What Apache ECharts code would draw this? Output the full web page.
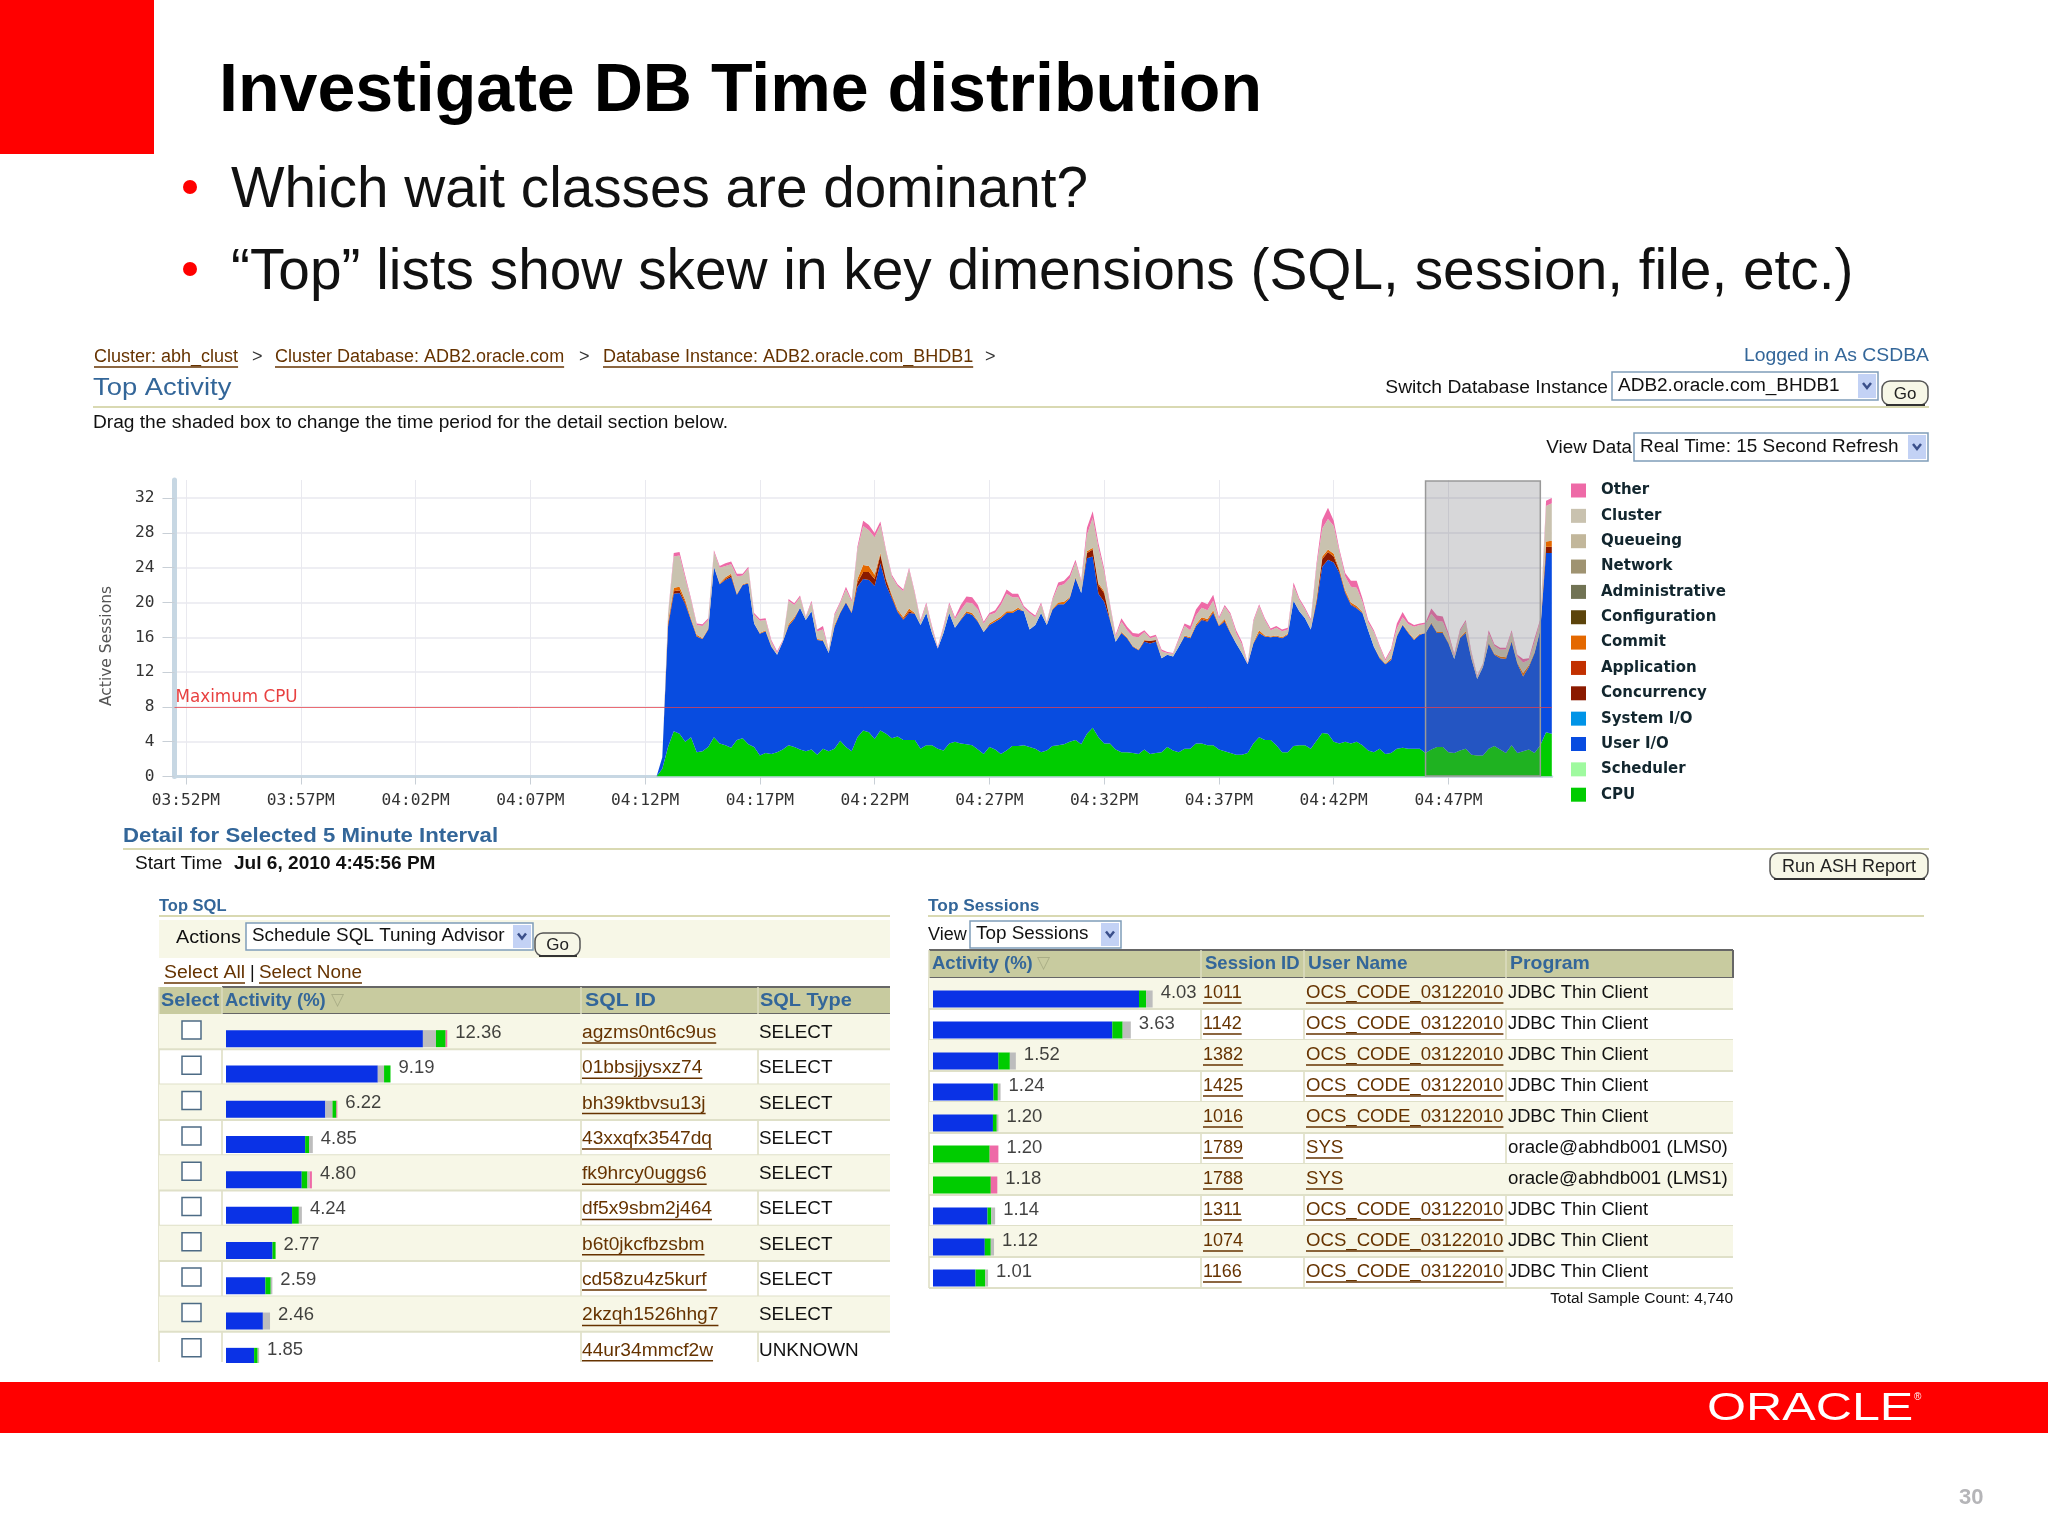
<!DOCTYPE html>
<html>
<head>
<meta charset="utf-8">
<title>Investigate DB Time distribution</title>
<script src="https://cdn.jsdelivr.net/npm/echarts@6/dist/echarts.min.js"></script>
<style>
html,body{margin:0;padding:0;background:#fff}
#main{width:2048px;height:1536px}
</style>
</head>
<body>
<div id="main"></div>
<script>
// active sessions, one sample every 15 seconds starting 04:12:30PM
const cpu = [
0,0.9,3.4,5.2,4.9,4.0,4.5,2.8,2.9,3.4,
4.5,3.8,3.6,3.3,4.2,4.4,3.7,3.4,2.4,2.7,
2.6,2.8,3.1,3.6,3.4,3.1,2.9,3.1,2.5,3.2,
2.9,3.2,4.1,3.4,2.9,4.5,5.3,5.1,4.3,5.3,
4.9,4.4,4.6,4.2,4.2,4.2,3.2,3.6,3.6,3.2,
3.0,3.8,4.0,3.8,3.7,3.6,3.1,2.6,3.4,3.1,
2.6,3.0,3.5,3.5,3.6,3.4,3.2,2.8,3.0,3.5,
3.6,3.7,4.0,4.2,3.7,4.9,5.6,4.5,3.8,3.8,
3.1,2.8,2.8,2.7,2.6,3.1,2.6,2.7,2.8,3.4,
3.0,2.8,3.2,3.2,3.8,3.8,3.6,3.6,3.1,2.9,
2.7,2.5,2.5,2.7,3.8,4.5,4.2,4.2,3.6,2.8,
2.8,3.5,3.6,3.6,3.2,4.1,5.0,4.9,4.0,3.8,
4.0,3.8,4.0,3.6,3.0,2.8,3.2,2.6,2.7,3.2,
3.3,3.2,3.2,3.2,2.7,3.1,3.4,3.4,2.8,2.7,
3.0,3.2,2.5,2.4,2.4,3.2,3.5,3.1,2.7,3.6,
2.7,2.9,3.1,2.7,3.6,5.1,4.9];
const userIO = [
0,1.3,13.8,15.8,16.2,15.8,13.5,13.3,12.9,13.5,
19.6,18.3,19.0,19.6,16.7,17.6,18.5,14.2,14.0,14.0,
12.3,11.2,12.4,13.7,14.7,16.3,15.1,15.9,13.2,12.4,
11.3,14.0,14.7,16.6,15.9,17.3,17.4,17.5,17.6,19.2,
17.1,16.1,14.3,13.8,14.6,14.5,14.2,15.2,12.9,11.5,
13.5,15.0,13.1,14.2,15.1,15.0,14.7,14.0,14.0,14.7,
15.6,15.8,15.3,15.7,15.4,13.5,14.2,16.0,14.4,15.7,
16.2,16.1,16.5,18.6,17.4,20.2,19.7,16.5,16.3,14.2,
12.4,13.7,13.1,12.2,11.9,12.4,12.7,12.8,10.8,10.6,
10.8,12.1,12.9,12.7,13.5,14.2,14.2,15.2,14.2,14.9,
13.8,12.8,11.7,10.2,11.5,12.0,11.9,11.8,12.5,13.1,
13.5,16.7,15.4,14.6,13.7,15.8,19.1,20.0,20.6,19.6,
17.1,15.9,15.3,15.2,13.8,12.1,10.4,10.3,10.7,12.9,
14.1,13.3,12.5,13.1,13.8,14.5,13.1,13.1,12.5,10.8,
12.9,13.3,11.0,8.8,10.2,12.1,10.5,10.5,10.8,11.9,
10.3,8.6,9.5,11.5,13.3,20.6,20.8];
const concurrency = [
0,0,.3,.3,.3,.2,0,0,0,0,
0,0,.1,.2,0,0,0,0,0,0,
0,0,0,0,0,0,0,0,0,0,
0,0,0,0,0,.5,.8,.9,.8,1.0,
.6,.2,.1,.1,.2,0,0,0,0,0,
0,0,0,0,0,0,0,0,0,0,
0,0,0,0,0,0,0,0,0,0,
0,0,0,0,0,.6,.8,1.0,1.0,.1,
0,0,0,0,0,.1,.3,.2,0,0,
0,0,0,0,0,.1,.1,.1,0,.1,
0,0,0,0,0,0,0,0,0,0,
0,0,0,0,0,.3,.9,.9,.7,.2,
.1,.1,.1,0,0,0,0,0,0,0,
0,0,0,0,0,0,0,0,0,0,
0,0,0,0,0,0,0,0,0,0,
0,0,0,0,0,.7,.7];
const commit = [
0,0,.3,.4,.4,.3,.2,.2,.1,.1,
0,.1,.2,.2,.1,.1,.1,0,.1,.1,
.1,0,0,.2,.2,0,0,0,.1,.1,
0,.2,.1,.1,.1,.4,.8,.7,.5,.2,
.2,.2,.2,.2,.3,.1,0,0,0,0,
0,0,0,.1,.2,.2,.1,0,.2,.2,
.2,.2,.2,.2,0,0,0,0,0,.1,
.2,.3,.1,.1,0,.2,.2,.2,.2,.1,
0,.1,.1,.1,.1,.1,0,0,0,0,
0,0,.1,.1,.2,.2,.2,.2,.1,.2,
.1,0,0,0,.1,.3,.1,.1,.1,.1,
.1,0,0,0,0,.2,.3,.3,.3,.2,
.2,.2,.2,.1,0,0,.1,.1,.2,.1,
.1,.1,.1,.1,0,.1,.1,.1,.1,0,
.1,.2,.1,0,0,.1,.1,.2,.2,.1,
.1,.4,.2,.1,0,.6,.7];
const cluster = [
0,0,.8,3.6,3.6,2.5,2.1,1.1,1.4,1.0,
1.7,1.8,1.3,1.1,2.0,1.0,1.6,1.0,1.4,1.2,
.5,.2,.1,2.7,1.4,1.2,.3,1.0,.9,1.2,
.3,1.1,1.0,1.4,1.2,3.4,4.5,4.1,4.3,3.2,
3.0,2.1,2.7,3.0,4.5,2.2,.4,1.0,.6,.1,
.6,1.0,1.0,1.0,1.0,1.1,1.3,1.0,1.0,.8,
1.3,2.0,1.6,1.2,.4,1.9,.9,1.0,.3,1.0,
1.9,2.0,2.2,1.7,1.3,1.9,3.4,4.1,2.2,1.5,
.6,1.2,.8,1.1,1.4,.9,.3,.4,.8,.2,
.3,.8,1.1,.8,1.0,1.1,1.0,1.1,.7,1.4,
2.0,1.2,1.0,.1,2.4,2.8,1.8,.7,.9,.7,
.5,1.7,1.3,1.0,1.0,3.7,3.2,3.5,3.2,2.0,
1.6,1.8,2.1,1.2,.9,1.7,1.2,.3,.9,.8,
.8,.9,1.4,1.0,1.0,1.0,1.3,1.2,.8,.4,
.7,1.1,.5,.3,.3,1.1,.9,.8,.9,1.0,
.7,1.2,.6,1.2,1.0,4.1,4.3];
const other = [
0,0,.1,.4,.4,.3,.2,.2,.2,.2,
.2,.2,.3,.3,.3,.2,.2,.2,.2,.2,
.2,.2,.1,.2,.2,.2,.1,.2,.2,.4,
.1,.2,.2,.3,.2,.3,.6,.6,.5,.4,
.2,.2,.2,.2,.2,.2,.2,.2,.2,.1,
.2,.2,.2,.6,.7,.7,.5,.2,.2,.3,
.4,.5,.4,.4,.2,.2,.2,.2,.1,.2,
.4,.4,.4,.3,.2,.8,.8,.5,.4,.2,
.2,.4,.4,.4,.4,.2,.2,.2,.2,.1,
.1,.2,.3,.5,.7,.7,.7,.7,.2,.2,
.2,.3,.3,.1,.2,.2,.2,.2,.2,.2,
.2,.4,.2,.2,.2,.4,1.0,1.3,.6,.3,
.4,.7,.8,.4,.3,.2,.2,.2,.2,.6,
.6,.3,.2,.2,.2,.6,.6,.6,.3,.2,
.2,.2,.2,.1,.1,.3,.2,.2,.2,.2,
.2,.4,.2,.4,.2,.6,.6];
// wait classes with nothing readable in the picture, legend only
const noSamples = [];

const yTicks = [0,4,8,12,16,20,24,28,32];
const tickLabels = ['03:52PM','03:57PM','04:02PM','04:07PM','04:12PM','04:17PM','04:22PM','04:27PM','04:32PM','04:37PM','04:42PM','04:47PM'];
const legendNames = ['Other','Cluster','Queueing','Network','Administrative','Configuration','Commit','Application','Concurrency','System I/O','User I/O','Scheduler','CPU'];
const maxCpu = 8;

// Top SQL table
const sqlIds = ['agzms0nt6c9us','01bbsjjysxz74','bh39ktbvsu13j','43xxqfx3547dq','fk9hrcy0uggs6','df5x9sbm2j464','b6t0jkcfbzsbm','cd58zu4z5kurf','2kzqh1526hhg7','44ur34mmcf2w'];
const sqlTypes = ['SELECT','SELECT','SELECT','SELECT','SELECT','SELECT','SELECT','SELECT','SELECT','UNKNOWN'];
const sqlActivity = [12.36,9.19,6.22,4.85,4.80,4.24,2.77,2.59,2.46,1.85];
const sqlUserIO = [11.00,8.48,5.55,4.42,4.23,3.69,2.60,2.20,2.06,1.57];
const sqlClusterWait = [.73,.35,.40,0,0,0,0,0,.40,0];
const sqlCpu = [.54,.36,.22,.22,.32,.38,.17,.30,0,.20];
const sqlGreyWait = [0,0,0,.21,.13,.17,0,.09,0,.08];
const sqlOther = [.09,0,.05,0,.12,0,0,0,0,0];

// Top Sessions table
const sessionIds = ['1011','1142','1382','1425','1016','1789','1788','1311','1074','1166'];
const userNames = ['OCS_CODE_03122010','OCS_CODE_03122010','OCS_CODE_03122010','OCS_CODE_03122010','OCS_CODE_03122010','SYS','SYS','OCS_CODE_03122010','OCS_CODE_03122010','OCS_CODE_03122010'];
const programs = ['JDBC Thin Client','JDBC Thin Client','JDBC Thin Client','JDBC Thin Client','JDBC Thin Client','oracle@abhdb001 (LMS0)','oracle@abhdb001 (LMS1)','JDBC Thin Client','JDBC Thin Client','JDBC Thin Client'];
const sesActivity = [4.03,3.63,1.52,1.24,1.20,1.20,1.18,1.14,1.12,1.01];
const sesUserIO = [3.78,3.29,1.20,1.11,1.10,0,0,1.00,.95,.78];
const sesCpu = [.13,.19,.21,.08,.07,1.04,1.06,.07,.11,.18];
const sesGreyWait = [.12,.15,.11,.05,.03,0,0,.07,.06,.05];
const sesOther = [0,0,0,0,0,.16,.12,0,0,0];

// 03:51:30PM .. 04:51:30PM in 15 second steps
const categories = [];
for (let s = (15*60+51)*60+30; s <= (16*60+51)*60+30; s += 15) {
    const two = n => String(n).padStart(2,'0');
    const h = Math.floor(s/3600)-12, m = Math.floor(s/60)%60;
    categories.push(two(h)+':'+two(m)+':'+two(s%60)+'PM');
}
const leadIn = 84;  // nothing sampled before 04:12:30PM
const shortTime = v => v.slice(0,5)+v.slice(8);
const isTick = (i,v) => tickLabels.indexOf(shortTime(v)) >= 0 && v.slice(6,8) === '00';

const pad = arr => arr.length ? new Array(leadIn).fill(null).concat(arr) : arr;

function areaSeries(name, color, values){
    return {
        name:name, type:'line', stack:'waits', data:pad(values), xAxisIndex:0, yAxisIndex:0,
        showSymbol:false, symbol:'none', silent:true, animation:false,
        lineStyle:{width:0}, itemStyle:{color:color}, areaStyle:{color:color, opacity:1}, z:2
    };
}
function barSeries(name, color, values, axis){
    return {
        name:name, type:'bar', stack:'row'+axis, data:values, xAxisIndex:axis, yAxisIndex:axis,
        barWidth:17, silent:true, animation:false, itemStyle:{color:color}
    };
}
function totalLabels(name, values, axis){
    return {
        name:name, type:'scatter', data:values.map((v,i)=>[v,i]), xAxisIndex:axis, yAxisIndex:axis,
        symbolSize:0, silent:true, animation:false,
        label:{show:true, position:'right', distance:8, offset:[0,-6], color:'#111',
               fontFamily:'Liberation Sans', fontSize:18.5, formatter:p=>p.value[0].toFixed(2)}
    };
}

// page furniture
const g = [];
const FONT = '"Liberation Sans"';
const measure = document.createElement('canvas').getContext('2d');
function txt(x,y,s,font,fill,extra){
    g.push(Object.assign({type:'text',x:x,y:y,silent:true,z:1,
        style:{text:s,font:font,fill:fill||'#000',align:'left',verticalAlign:'middle'}},extra||{}));
}
function txtR(x,y,s,font,fill,extra){
    txt(x,y,s,font,fill,extra); g[g.length-1].style.align='right';
}
function box(x,y,w,h,fill,stroke,r,z){
    g.push({type:'rect',silent:true,z:z||0,shape:{x:x,y:y,width:w,height:h,r:r||0},
        style:{fill:fill||'none',stroke:stroke||'none',lineWidth:stroke?1.5:0}});
}
function rule(x1,y1,x2,y2,color,w){
    g.push({type:'line',silent:true,z:0,shape:{x1:x1,y1:y1,x2:x2,y2:y2},style:{stroke:color,lineWidth:w||1}});
}
function link(x,y,s,font,sx){
    sx = sx||1;
    txt(x,y,s,font,'#663300',{scaleX:sx});
    measure.font = font;
    const w = measure.measureText(s).width*sx;
    rule(x,y+10,x+w,y+10,'#663300',1.5);
}
function select(x,y,w,h,s,font,sx){
    box(x,y,w,h,'#fff','#7f9db9');
    box(x+w-20,y+2,18,h-4,'#c3d2f5');
    g.push({type:'polyline',silent:true,z:1,shape:{points:[[x+w-15,y+h/2-3],[x+w-11,y+h/2+2],[x+w-7,y+h/2-3]]},
        style:{stroke:'#3a4f8a',lineWidth:2.5,fill:'none'}});
    txt(x+6,y+h/2,s,font,'#111',{scaleX:sx||1});
}
function button(x,y,w,h,s,font){
    box(x,y,w,h,'#f7f7e7','#555',8);
    rule(x+4,y+h,x+w-3,y+h,'#333',2);
    txt(x+w/2,y+h/2+1,s,font,'#222',{});
    g[g.length-1].style.align='center';
}
function dot(x,y,r,fill){
    g.push({type:'circle',silent:true,z:1,shape:{cx:x,cy:y,r:r},style:{fill:fill}});
}

const UI = '18px '+FONT, HEAD = 'bold 18.5px '+FONT, BLUE = '#336699';

// slide
box(0,0,154,154,'#ff0000');
txt(219,92,'Investigate DB Time distribution','bold 68.1px '+FONT,'#000');
txt(231,191,'Which wait classes are dominant?','56.7px '+FONT,'#111');
txt(231,273,'\u201CTop\u201D lists show skew in key dimensions (SQL, session, file, etc.)','56.8px '+FONT,'#111');
dot(190,187,7,'#ff0000');
dot(190,269,7,'#ff0000');
box(0,1382,2048,51,'#ff0000',null,0,6);
txt(1707,1410,'ORACLE','38px '+FONT,'#fff',{z:7,scaleX:1.32});
txt(1914,1397,'\u00AE','10px '+FONT,'#fff',{z:7});
txt(1959,1498,'30','bold 22px '+FONT,'#b5b5b8');

// breadcrumb and page header
link(94,357,'Cluster: abh_clust',UI);
txt(252,357,'>',UI,'#333');
link(275,357,'Cluster Database: ADB2.oracle.com',UI);
txt(579,357,'>',UI,'#333');
link(603,357,'Database Instance: ADB2.oracle.com_BHDB1',UI);
txt(985,357,'>',UI,'#333');
txtR(1929,356,'Logged in As CSDBA',UI,BLUE,{scaleX:1.075});
txt(93,389,'Top Activity','23px '+FONT,BLUE,{scaleX:1.19});
rule(93,407,1929,407,'#cccc99',1.5);
txtR(1608,388,'Switch Database Instance',UI,'#111',{scaleX:1.07});
select(1612,372,266,28,'ADB2.oracle.com_BHDB1',UI,1.055);
button(1882,381,46,24,'Go','17px '+FONT);
txt(93,423,'Drag the shaded box to change the time period for the detail section below.',UI,'#111',{scaleX:1.063});
txtR(1632,448,'View Data',UI,'#111',{scaleX:1.05});
select(1634,433,294,28,'Real Time: 15 Second Refresh',UI,1.053);

// chart axis name, the legend is the real one
txt(0,0,'Active Sessions','15.5px "DejaVu Sans"','#555',{x:107,y:646,rotation:Math.PI/2});
g[g.length-1].style.align='center';

// detail section
txt(123,836,'Detail for Selected 5 Minute Interval','bold 20.5px '+FONT,BLUE,{scaleX:1.083});
rule(123,849,1929,849,'#cccc99',1.5);
txt(135,864,'Start Time',UI,'#111',{scaleX:1.06});
txt(234,864,'Jul 6, 2010 4:45:56 PM','bold 18px '+FONT,'#111',{scaleX:1.06});
button(1770,853,158,26,'Run ASH Report','18px '+FONT);

// Top SQL frame
txt(159,906,'Top SQL','bold 16.5px '+FONT,BLUE);
rule(159,916,890,916,'#cccc99',1.5);
box(159,920,731,38,'#f7f7e7');
txt(176,938,'Actions',UI,'#111',{scaleX:1.1});
select(246,923,287,27,'Schedule SQL Tuning Advisor',UI,1.05);
button(535,933,45,23,'Go','17px '+FONT);
link(164,973,'Select All',UI,1.08);
txt(250,973,'|',UI,'#111');
link(259,973,'Select None',UI,1.05);
box(159,987,731,27,'#c8cb9f');
rule(222,987,890,987,'#666',2);
rule(222,1014,890,1014,'#666',2);
[222,581,758].forEach(x=>rule(x,987,x,1362,'#dcdcc0',1.5));
rule(159,987,159,1362,'#dcdcc0',1.5);
txt(161,1001,'Select',HEAD,BLUE,{scaleX:1.07});
txt(225,1001,'Activity (%)',HEAD,BLUE);
txt(331,1001,'\u25BD','17px "DejaVu Sans"','#a9ad86');
txt(585,1001,'SQL ID',HEAD,BLUE,{scaleX:1.15});
txt(760,1001,'SQL Type',HEAD,BLUE,{scaleX:1.08});
const SQL_ROW = 35.3, SQL_TOP = 1014;
sqlIds.forEach((id,i)=>{
    const top = SQL_TOP+SQL_ROW*i, mid = top+18;
    if (i%2===0 && i<9) box(159,top,731,SQL_ROW,'#f7f7e7');
    if (i<9) rule(159,top+SQL_ROW,890,top+SQL_ROW,'#dfe0c8',2);
    box(182,mid-11,19,18,'#fff','#4d6b85');
    link(582,mid+1,id,UI,1.065);
    txt(759,mid+1,sqlTypes[i],UI,'#111',{scaleX:1.05});
});
g.push({type:'rect',silent:true,z:5,shape:{x:159,y:1363,width:731,height:19},style:{fill:'#fff'}});

// Top Sessions frame
txt(928,906,'Top Sessions','bold 16.5px '+FONT,BLUE,{scaleX:1.05});
rule(928,916,1924,916,'#cccc99',1.5);
txt(928,935,'View',UI,'#111');
select(970,921,151,27,'Top Sessions',UI,1.05);
box(929,950,804,28,'#c8cb9f');
rule(929,950,1733,950,'#666',2);
rule(929,978,1733,978,'#666',2);
rule(1733,950,1733,978,'#666',2);
[929,1201,1304,1506].forEach(x=>rule(x,950,x,1288,'#dcdcc0',1.5));
txt(932,964,'Activity (%)',HEAD,BLUE);
txt(1037,964,'\u25BD','17px "DejaVu Sans"','#a9ad86');
txt(1205,964,'Session ID',HEAD,BLUE);
txt(1308,964,'User Name',HEAD,BLUE,{scaleX:1.03});
txt(1510,964,'Program',HEAD,BLUE,{scaleX:1.05});
const SES_ROW = 31, SES_TOP = 978;
sessionIds.forEach((id,i)=>{
    const top = SES_TOP+SES_ROW*i, mid = top+15;
    if (i%2===0) box(929,top,804,SES_ROW,'#f7f7e7');
    rule(929,top+SES_ROW,1733,top+SES_ROW,'#dfe0c8',2);
    link(1203,mid,id,UI);
    link(1306,mid,userNames[i],UI,1.033);
    txt(1508,mid,programs[i],UI,'#111',{scaleX:programs[i].charAt(0)==='o'?1.04:1.015});
});
txtR(1733,1299,'Total Sample Count: 4,740','15.5px '+FONT,'#111');

const option = {
    backgroundColor:'#fff',
    animation:false,
    graphic:{elements:g},
    legend:{
        data:legendNames, orient:'vertical', left:1566, top:478,
        icon:'rect', itemWidth:15, itemHeight:14, itemGap:10.35, selectedMode:false,
        textStyle:{fontFamily:'DejaVu Sans', fontWeight:'bold', fontSize:15, color:'#12262e', padding:[0,0,0,10]}
    },
    grid:[
        {left:174.5, top:480, width:1377.3, height:296.5},
        {left:226, top:1021, width:350, height:353},
        {left:933, top:983.5, width:260, height:310}
    ],
    xAxis:[
        {
            type:'category', gridIndex:0, data:categories, boundaryGap:false,
            axisLine:{lineStyle:{color:'#c7d7e3',width:3}},
            axisTick:{interval:isTick, length:8, lineStyle:{color:'#c8cfd6'}},
            axisLabel:{interval:isTick, margin:16, color:'#333', fontFamily:'DejaVu Sans Mono', fontSize:16.2, formatter:shortTime},
            splitLine:{show:true, interval:isTick, lineStyle:{color:'#e9e9ef',width:1}}
        },
        {type:'value', gridIndex:1, min:0, max:350/17.9, show:false},
        {type:'value', gridIndex:2, min:0, max:260/54.5, show:false}
    ],
    yAxis:[
        {
            type:'value', gridIndex:0, min:0, max:34.08,
            axisLine:{show:true, lineStyle:{color:'#c7d7e3',width:5}},
            axisTick:{show:true, length:12, customValues:yTicks, lineStyle:{color:'#c8cfd6'}},
            axisLabel:{customValues:yTicks, margin:20, color:'#333', fontFamily:'DejaVu Sans Mono', fontSize:16.2},
            splitLine:{show:true, lineStyle:{color:'#e9e9ef',width:1.5}}
        },
        {type:'category', gridIndex:1, inverse:true, data:sqlIds, show:false},
        {type:'category', gridIndex:2, inverse:true, data:sessionIds, show:false}
    ],
    series:[
        areaSeries('CPU','#00cc00',cpu),
        areaSeries('Scheduler','#9ffa9f',noSamples),
        areaSeries('User I/O','#084ce0',userIO),
        areaSeries('System I/O','#0094e7',noSamples),
        areaSeries('Concurrency','#8b1a00',concurrency),
        areaSeries('Application','#c23000',noSamples),
        areaSeries('Commit','#e46800',commit),
        areaSeries('Configuration','#5c440b',noSamples),
        areaSeries('Administrative','#717354',noSamples),
        areaSeries('Network','#9f9371',noSamples),
        areaSeries('Queueing','#c2b79b',noSamples),
        areaSeries('Cluster','#c9c2af',cluster),
        areaSeries('Other','#ee6aa7',other),
        {
            // shaded selection box and the CPU limit sit on top of the areas
            name:'selection', type:'line', data:[], xAxisIndex:0, yAxisIndex:0, z:5, silent:true,
            markArea:{
                silent:true, z:5,
                itemStyle:{color:'rgba(110,110,120,0.28)', borderColor:'#999', borderWidth:1.5},
                data:[[{xAxis:'04:46:00PM', y:481},{xAxis:'04:51:00PM', y:776}]]
            },
            markLine:{
                silent:true, symbol:'none', animation:false, z:6,
                lineStyle:{color:'#e8404a', width:1, type:'solid', opacity:.75},
                label:{position:'insideStartTop', formatter:'Maximum CPU', color:'#e00000', fontFamily:'DejaVu Sans', fontSize:16.8, distance:1},
                data:[{yAxis:maxCpu}]
            }
        },
        barSeries('SQL User I/O','#0a32e6',sqlUserIO,1),
        barSeries('SQL Cluster','#bdbdbd',sqlClusterWait,1),
        barSeries('SQL CPU','#00cc00',sqlCpu,1),
        barSeries('SQL Grey','#bdbdbd',sqlGreyWait,1),
        barSeries('SQL Other','#ee6aa7',sqlOther,1),
        totalLabels('SQL total',sqlActivity,1),
        barSeries('Session User I/O','#0a32e6',sesUserIO,2),
        barSeries('Session CPU','#00cc00',sesCpu,2),
        barSeries('Session Grey','#bdbdbd',sesGreyWait,2),
        barSeries('Session Other','#ee6aa7',sesOther,2),
        totalLabels('Session total',sesActivity,2)
    ]
};

const myChart = echarts.init(document.getElementById('main'));
myChart.setOption(option);
</script>
</body>
</html>
